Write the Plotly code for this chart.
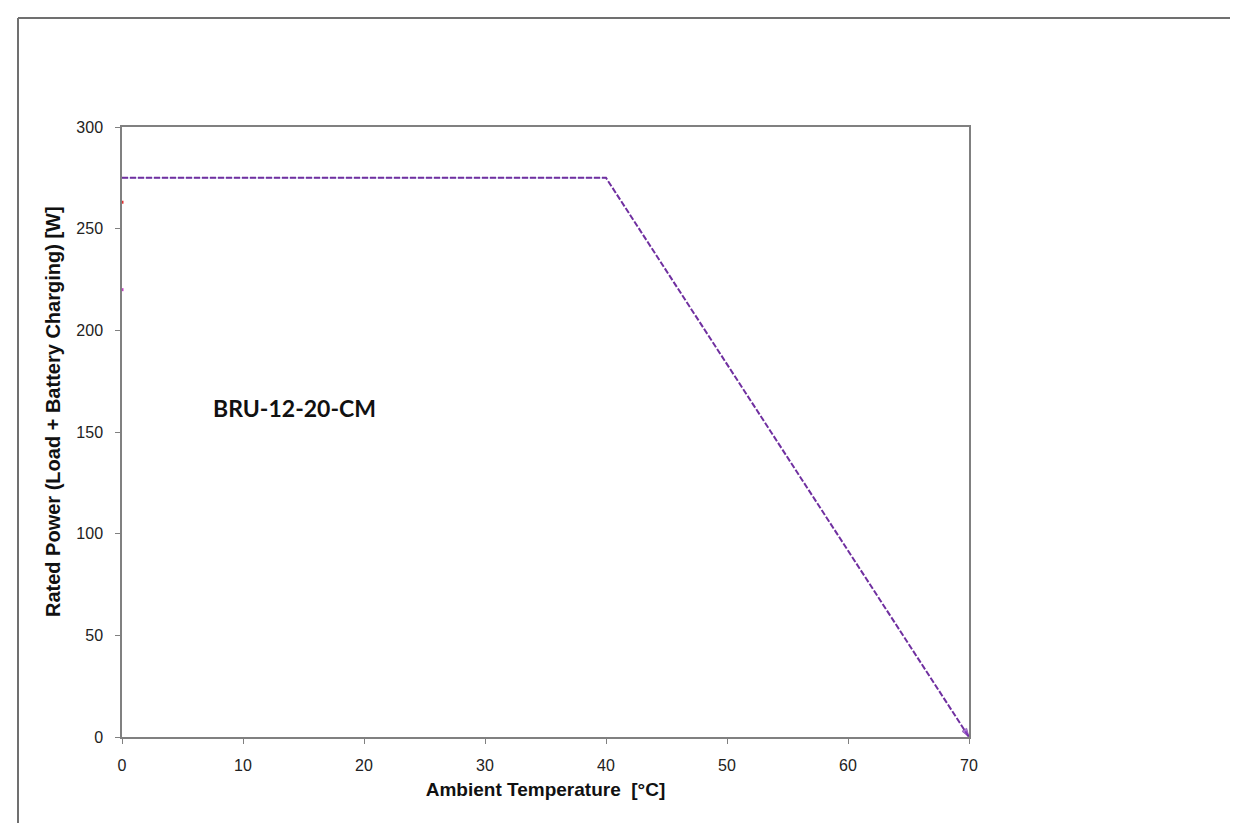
import plotly.graph_objects as go

temps = [0, 40, 70]
power = [275, 275, 0]
stray_x = [0, 0]
stray_y = [263, 220]
stray_colors = ["#E03030", "#C040C0"]
x_ticks = [0, 10, 20, 30, 40, 50, 60, 70]
y_ticks = [0, 50, 100, 150, 200, 250, 300]
label_text = "BRU-12-20-CM"
x_title = "Ambient Temperature  [°C]"
y_title = "Rated Power (Load + Battery Charging) [W]"

L, R, T, B = 114, 961, 119, 729
W, H = 1238, 823

fig = go.Figure()
fig.add_trace(go.Scatter(x=temps[:2], y=power[:2], mode="lines",
                         line=dict(color="#4B4BC8", width=1.2),
                         opacity=0.3, showlegend=False, hoverinfo="skip"))
fig.add_trace(go.Scatter(x=temps, y=power, mode="lines+markers",
                         line=dict(color="#7030A0", width=2, dash="6px,2px"),
                         marker=dict(size=[0, 0, 9], symbol="arrow", angleref="previous",
                                     color="#8A3CC8"),
                         showlegend=False, cliponaxis=False))
fig.add_trace(go.Scatter(x=stray_x, y=stray_y, mode="markers",
                         marker=dict(size=3, color=stray_colors, symbol="square"),
                         showlegend=False, cliponaxis=False))

tick_font = dict(family="Liberation Sans, Arial", size=16, color="#222")
axis_common = dict(showline=True, linecolor="#808080", linewidth=1.5, mirror=True,
                   ticks="outside", ticklen=5, tickcolor="#808080", showgrid=False,
                   zeroline=False, tickfont=tick_font)

fig.update_layout(
    width=W, height=H, plot_bgcolor="white", paper_bgcolor="white",
    margin=dict(l=L, r=W - R, t=T, b=H - B),
    xaxis=dict(range=[0, 70], tickvals=x_ticks, ticklabelstandoff=8,
               title=dict(text="<b>" + x_title + "</b>", standoff=10,
                          font=dict(family="Liberation Sans, Arial", size=19, color="#111")),
               **axis_common),
    yaxis=dict(range=[0, 300], tickvals=y_ticks, ticklabelstandoff=9,
               **axis_common),
)

fig.add_annotation(text="<b>" + y_title + "</b>", textangle=-90,
                   xref="paper", yref="paper", x=(45 - L) / (R - L), y=(B - 404) / (B - T),
                   xanchor="center", yanchor="middle", showarrow=False,
                   font=dict(family="Liberation Sans, Arial", size=20, color="#111"))
fig.add_annotation(text="<b>" + label_text + "</b>", xref="x", yref="y",
                   x=(203 - L) / (R - L) * 70, y=(B - 400) / (B - T) * 300,
                   showarrow=False, xanchor="left", yanchor="middle",
                   font=dict(family="Lato, Open Sans", size=23, color="#111"))

# outer frame (left and top edges)
fx = (10 - L) / (R - L)
fy = 1 + (T - 10) / (B - T)
fig.add_shape(type="line", xref="paper", yref="paper", x0=fx, x1=fx, y0=-0.3, y1=fy,
              line=dict(color="#707070", width=2))
fig.add_shape(type="line", xref="paper", yref="paper", x0=fx, x1=1.5, y0=fy, y1=fy,
              line=dict(color="#707070", width=2))

fig.write_html("out.html")
